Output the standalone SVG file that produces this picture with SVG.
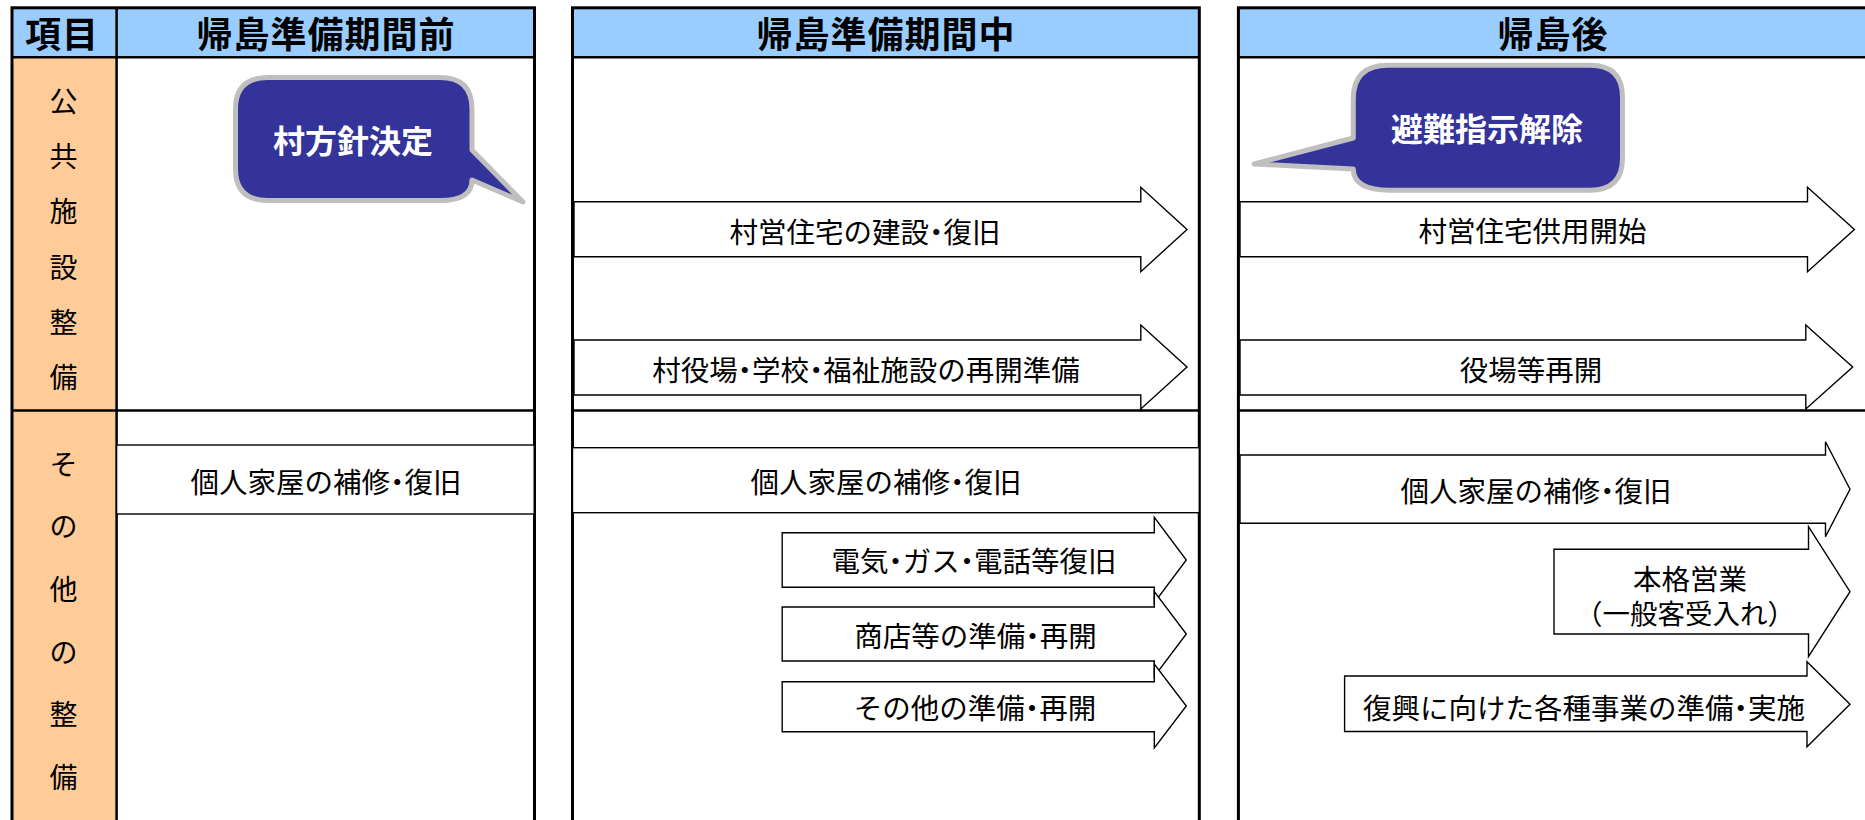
<svg xmlns="http://www.w3.org/2000/svg" width="1865" height="820" viewBox="0 0 1865 820">
<style>
.hdr{fill:#99CCFF}
.side{fill:#FFCC99}
.border{fill:none;stroke:#000;stroke-width:3}
.div{stroke:#000;stroke-width:2.5;fill:none}
.arrow{fill:#fff;stroke:#000;stroke-width:1.4;stroke-linejoin:miter}
.box{fill:#fff;stroke:#000;stroke-width:1.4}
.callout{fill:#333399;stroke:#BFBFBF;stroke-width:5;stroke-linejoin:round}
text{font-family:"Noto Sans CJK JP","Noto Sans CJK SC",sans-serif;text-anchor:middle;fill:#000}
.th{font-size:36px;font-weight:700;letter-spacing:1px}
.sc{font-size:28px}
.t{font-size:28.5px}
.p{font-feature-settings:"palt" 1}
.ct{font-size:32px;font-weight:700;fill:#fff}
</style>
<rect x="0" y="0" width="1865" height="820" fill="#fff"/>

<g id="table-before">
<rect class="hdr" x="12" y="7.8" width="522.5" height="49.5"/>
<rect class="side" x="12" y="57.3" width="104.6" height="780"/>
<line class="div" x1="12" y1="57.3" x2="534.5" y2="57.3"/>
<line class="div" x1="116.6" y1="7.8" x2="116.6" y2="840"/>
<line class="div" x1="12" y1="410.5" x2="534.5" y2="410.5"/>
<rect class="border" x="12" y="7.8" width="522.5" height="840"/>
</g>

<g id="table-during">
<rect class="hdr" x="572.5" y="7.8" width="626.8" height="49.5"/>
<line class="div" x1="572.5" y1="57.3" x2="1199.3" y2="57.3"/>
<line class="div" x1="572.5" y1="410.5" x2="1199.3" y2="410.5"/>
<rect class="border" x="572.5" y="7.8" width="626.8" height="840"/>
</g>

<g id="table-after">
<rect class="hdr" x="1238.4" y="7.8" width="640" height="49.5"/>
<line class="div" x1="1238.4" y1="57.3" x2="1880" y2="57.3"/>
<line class="div" x1="1238.4" y1="410.5" x2="1880" y2="410.5"/>
<rect class="border" x="1238.4" y="7.8" width="632" height="840"/>
</g>

<g id="header-item"><text class="th" x="62" y="48">項目</text></g>
<g id="header-before"><text class="th" x="326" y="48">帰島準備期間前</text></g>
<g id="header-during"><text class="th" x="886" y="48">帰島準備期間中</text></g>
<g id="header-after"><text class="th" x="1553" y="48">帰島後</text></g>

<g id="category-public">
<text class="sc" x="63.5" y="111.6">公</text>
<text class="sc" x="63.5" y="166.9">共</text>
<text class="sc" x="63.5" y="222.2">施</text>
<text class="sc" x="63.5" y="277.5">設</text>
<text class="sc" x="63.5" y="332.8">整</text>
<text class="sc" x="63.5" y="388.1">備</text>
</g>
<g id="category-other">
<text class="sc" x="63.5" y="474.6">そ</text>
<text class="sc" x="63.5" y="537.3">の</text>
<text class="sc" x="63.5" y="600">他</text>
<text class="sc" x="63.5" y="662.6">の</text>
<text class="sc" x="63.5" y="725.3">整</text>
<text class="sc" x="63.5" y="788">備</text>
</g>

<g id="callout-decision">
<path class="callout" d="M268,77.5 H440 Q472,77.5 472,109 V150 L523,202 L472,180 Q472,200.5 440,200.5 H268 Q235.5,200.5 235.5,169 V109 Q235.5,77.5 268,77.5 Z"/>
<text class="ct" x="353" y="153">村方針決定</text>
</g>

<g id="callout-release">
<path class="callout" d="M1388,65.2 H1590 Q1622.5,65.2 1622.5,97 V158 Q1622.5,190.2 1590,190.2 H1390 Q1353.3,190.2 1353.3,169 L1254,164 L1353.3,138 V99 Q1353.3,65.2 1388,65.2 Z"/>
<text class="ct" x="1487" y="141">避難指示解除</text>
</g>

<g id="arrow-housing-build">
<polygon class="arrow" points="574,201.7 1140.8,201.7 1140.8,187.3 1187,229.5 1140.8,271.7 1140.8,256.7 574,256.7"/>
<text class="t" x="865" y="242.5">村営住宅の建設<tspan class="p">・</tspan>復旧</text>
</g>
<g id="arrow-office-prep">
<polygon class="arrow" points="574,340 1140.8,340 1140.8,325 1187,367 1140.8,409 1140.8,395 574,395"/>
<text class="t" x="866" y="380.5">村役場<tspan class="p">・</tspan>学校<tspan class="p">・</tspan>福祉施設の再開準備</text>
</g>
<g id="arrow-housing-open">
<polygon class="arrow" points="1240,201.7 1807.5,201.7 1807.5,187.3 1854.4,229.5 1807.5,271.7 1807.5,256.7 1240,256.7"/>
<text class="t" x="1532.5" y="242">村営住宅供用開始</text>
</g>
<g id="arrow-office-open">
<polygon class="arrow" points="1240,340 1805.8,340 1805.8,325 1852.7,367 1805.8,409 1805.8,395 1240,395"/>
<text class="t" x="1531" y="380.5">役場等再開</text>
</g>

<g id="box-house-before">
<rect class="box" x="116.6" y="445" width="417.6" height="69"/>
<text class="t" x="326" y="492.5">個人家屋の補修<tspan class="p">・</tspan>復旧</text>
</g>
<g id="box-house-during">
<rect class="box" x="572.5" y="447.7" width="626.8" height="65"/>
<text class="t" x="886" y="492.5">個人家屋の補修<tspan class="p">・</tspan>復旧</text>
</g>

<g id="arrow-utilities">
<polygon class="arrow" points="782.2,532.7 1154.3,532.7 1154.3,517.3 1186.3,560 1154.3,602.7 1154.3,587.3 782.2,587.3"/>
<text class="t" x="974" y="572">電気<tspan class="p">・</tspan>ガス<tspan class="p">・</tspan>電話等復旧</text>
</g>
<g id="arrow-shops">
<polygon class="arrow" points="782.2,607 1154.3,607 1154.3,591.5 1186.3,634 1154.3,676.5 1154.3,661 782.2,661"/>
<text class="t" x="975.5" y="647">商店等の準備<tspan class="p">・</tspan>再開</text>
</g>
<g id="arrow-others">
<polygon class="arrow" points="782.2,681.7 1154.3,681.7 1154.3,664 1186.3,706 1154.3,748 1154.3,731.7 782.2,731.7"/>
<text class="t" x="975" y="719">その他の準備<tspan class="p">・</tspan>再開</text>
</g>

<g id="arrow-house-after">
<polygon class="arrow" points="1240,455 1825.5,455 1825.5,441.7 1850,489.2 1825.5,536.7 1825.5,523.3 1240,523.3"/>
<text class="t" x="1536" y="502">個人家屋の補修<tspan class="p">・</tspan>復旧</text>
</g>
<g id="arrow-full-business">
<polygon class="arrow" points="1554,549.3 1808.5,549.3 1808.5,526.7 1850,591.7 1808.5,656.7 1808.5,634 1554,634"/>
<text class="t" x="1690" y="590">本格営業</text>
<text class="t" x="1685" y="624" style="font-size:27.5px">（一般客受入れ）</text>
</g>
<g id="arrow-reconstruction">
<polygon class="arrow" points="1344.6,676 1807,676 1807,661.7 1850,704.2 1807,746.7 1807,731.5 1344.6,731.5"/>
<text class="t" x="1584" y="719">復興に向けた各種事業の準備<tspan class="p">・</tspan>実施</text>
</g>

<g id="connectors"></g>
</svg>
